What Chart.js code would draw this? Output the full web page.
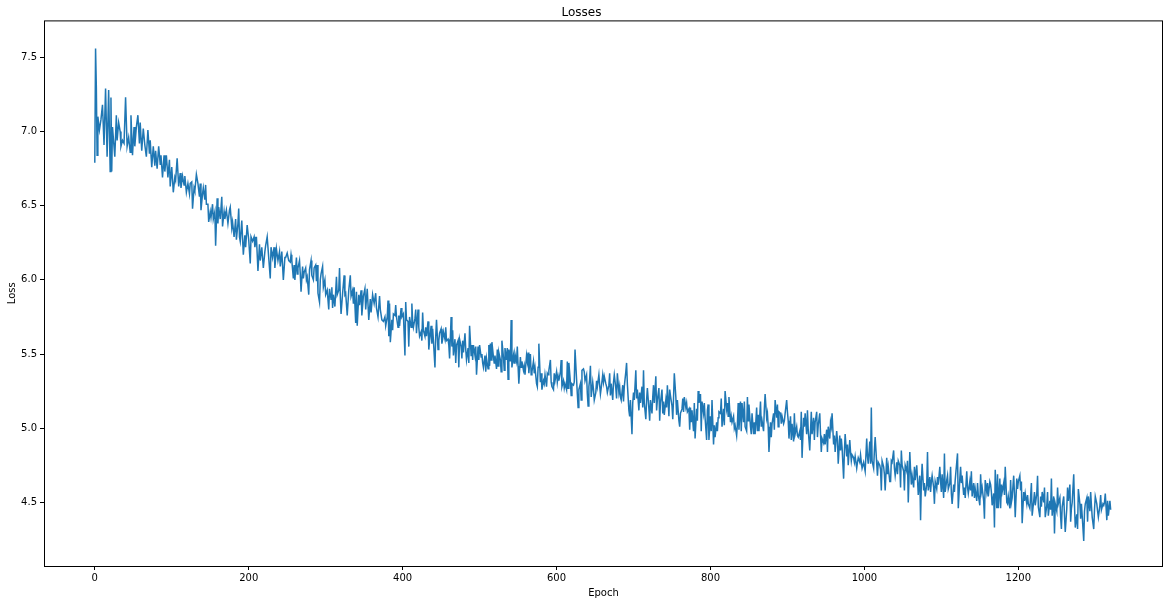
<!DOCTYPE html>
<html>
<head>
<meta charset="utf-8">
<title>Losses</title>
<script src="https://cdn.jsdelivr.net/npm/chart.js@4/dist/chart.umd.min.js"></script>
<style>
  html, body { margin: 0; padding: 0; background: #fff; }
  #wrap { width: 1167px; height: 604px; }
</style>
</head>
<body>
<div id="wrap"><canvas id="lossChart" width="1167" height="604"></canvas></div>
<script>
// loss per epoch as [epoch, loss]
const lossLog = [
  [0,6.79],[1,7.56],[2,7.30],[3,6.84],[4,7.10],[6,7.01],[8,7.08],[10,7.18],[12,6.91],[14,7.29],
  [16,6.83],[18,7.28],[20,6.73],[21,7.23],[22,6.73],[23,7.03],[26,6.83],[28,7.11],[29,6.94],[31,7.06],
  [33,7.00],[34,6.90],[36,6.94],[38,6.92],[40,7.23],[42,6.90],[44,6.96],[46,6.86],[47,7.11],[49,6.84],
  [51,7.03],[52,6.90],[54,7.03],[56,7.11],[58,6.92],[59,7.06],[61,6.87],[63,7.02],[65,6.91],[67,6.83],
  [69,7.01],[71,6.85],[72,6.94],[74,6.76],[76,6.90],[78,6.77],[79,6.87],[81,6.75],[83,6.90],[85,6.78],
  [86,6.84],[88,6.69],[90,6.84],[91,6.73],[93,6.84],[95,6.69],[97,6.81],[98,6.63],[100,6.76],[102,6.59],
  [104,6.69],[105,6.67],[107,6.82],[109,6.63],[111,6.72],[112,6.62],[114,6.70],[116,6.64],[117,6.70],[119,6.59],
  [121,6.65],[123,6.58],
  [124,6.65],[126,6.66],[127,6.48],[129,6.62],[130,6.60],[132,6.71],[134,6.65],[136,6.56],[137,6.65],[138,6.47],
  [140,6.58],[141,6.62],[143,6.54],[144,6.64],[145,6.51],[147,6.51],[148,6.39],[150,6.46],[151,6.42],[153,6.51],
  [154,6.41],[156,6.46],[157,6.23],[159,6.55],[160,6.38],[161,6.49],[163,6.41],[165,6.56],[166,6.36],[168,6.46],
  [169,6.41],[171,6.47],[173,6.38],[175,6.47],[176,6.49],[178,6.35],[179,6.39],[181,6.29],[183,6.41],[184,6.27],
  [186,6.38],[187,6.48],[188,6.29],[189,6.26],[191,6.40],[192,6.28],[193,6.17],[195,6.30],[196,6.22],[198,6.37],
  [200,6.27],[202,6.11],[203,6.29],[205,6.26],[207,6.29],[208,6.22],[210,6.29],[212,6.06],[214,6.24],[215,6.13],
  [217,6.22],[219,6.08],[221,6.19],[222,6.23],[224,6.29],[226,6.15],[228,6.01],[229,6.22],[231,6.15],[233,6.22],
  [234,6.08],[236,6.21],[238,6.13],[240,6.19],[241,6.09],[243,6.19],[245,6.00],[247,6.15],[248,6.15],[250,6.18],
  [252,6.13],
  [254,6.12],[255,6.17],[256,6.13],[258,6.01],[259,6.10],[260,6.00],[262,6.15],[263,6.04],[264,6.08],[266,6.13],
  [267,6.04],[268,5.92],[270,6.09],[271,6.01],[272,6.05],[274,6.08],[275,6.00],[276,6.02],[278,5.90],[279,6.07],
  [281,6.13],[282,6.03],[284,6.00],[285,6.08],[287,6.10],[288,5.99],[289,6.10],[290,5.91],[292,5.85],[293,6.00],
  [294,6.04],[296,6.09],[297,5.95],[299,6.00],[300,5.90],[302,5.93],[304,5.80],[305,5.94],[307,5.87],[308,5.95],
  [309,5.81],[310,5.90],[312,5.82],[314,6.02],[315,5.90],[317,5.93],[318,6.08],[319,5.89],[320,5.77],[322,5.91],
  [324,6.03],[325,5.90],[326,5.91],[328,5.76],[330,5.93],[332,6.03],[333,5.89],[335,5.93],[336,5.84],[337,5.95],
  [339,5.71],[340,5.92],[341,5.69],[343,5.90],[344,5.83],[346,5.93],[347,5.76],[349,5.89],[351,5.94],[352,5.80],
  [354,5.94],[356,5.73],[358,5.87],[359,5.78],[361,5.90],[363,5.84],[365,5.91],[366,5.81],[368,5.75],[370,5.89],
  [371,5.80],[373,5.73],[375,5.72],[377,5.75],[378,5.69],[380,5.75],[381,5.86],[382,5.62],[383,5.84],
  [384,5.58],[386,5.73],[387,5.66],[388,5.77],[390,5.76],[391,5.83],[392,5.75],[394,5.68],[395,5.76],[396,5.69],
  [398,5.81],[399,5.75],[400,5.76],[401,5.77],[403,5.49],[404,5.85],[405,5.73],[407,5.72],[408,5.55],[409,5.75],
  [411,5.68],[412,5.84],[413,5.72],[414,5.68],[416,5.74],[417,5.80],[418,5.64],[420,5.80],[421,5.68],[422,5.62],
  [424,5.65],[425,5.59],[426,5.78],[427,5.66],[429,5.62],[430,5.68],[431,5.62],[433,5.72],[434,5.53],[435,5.59],
  [437,5.69],[438,5.57],[439,5.67],[440,5.59],[442,5.41],[443,5.62],[444,5.73],[446,5.53],[447,5.59],[448,5.64],
  [450,5.67],[451,5.57],[452,5.60],[453,5.65],[455,5.60],[456,5.68],[457,5.59],[459,5.60],[460,5.56],[461,5.47],
  [463,5.75],[464,5.55],[465,5.66],[466,5.49],[468,5.60],[469,5.44],[470,5.56],[472,5.59],[473,5.41],[474,5.60],
  [476,5.55],[477,5.47],[478,5.59],[479,5.51],[481,5.64],[482,5.53],[483,5.46],[485,5.54],[486,5.44],[487,5.69],
  [489,5.49],[490,5.56],[491,5.46],[492,5.56],[494,5.49],[495,5.55],[496,5.36],[498,5.55],[499,5.46],[500,5.56],
  [502,5.48],[503,5.50],[504,5.44],[505,5.41],[507,5.49],[508,5.38],[509,5.47],[511,5.40],[512,5.56],[513,5.42],
  [514,5.57],[515,5.46],[516,5.58],[518,5.48],[519,5.44],[520,5.49],[522,5.40],[523,5.53],[524,5.42],[525,5.51],
  [527,5.46],[528,5.38],[529,5.59],[531,5.48],[532,5.39],[533,5.54],[535,5.46],[536,5.54],[537,5.33],[538,5.53],
  [540,5.45],[541,5.73],[542,5.41],[544,5.49],[545,5.44],[546,5.50],[548,5.45],[549,5.55],[550,5.42],[551,5.30],
  [553,5.48],[554,5.41],[555,5.45],[557,5.39],[558,5.42],[559,5.36],[561,5.49],[562,5.45],[563,5.51],[564,5.37],
  [566,5.50],[567,5.36],[568,5.38],[570,5.45],[571,5.37],[572,5.41],[574,5.30],[575,5.28],[576,5.41],[577,5.57],
  [579,5.31],[580,5.37],[581,5.26],[583,5.32],[584,5.30],[585,5.36],[587,5.28],[588,5.37],[589,5.36],[590,5.39],
  [592,5.46],[593,5.31],[594,5.28],[596,5.26],[597,5.37],[598,5.32],[600,5.38],[601,5.31],[602,5.35],[603,5.32],
  [605,5.38],[606,5.46],[607,5.28],[609,5.32],[610,5.27],[611,5.30],[613,5.26],[614,5.45],[615,5.27],[616,5.44],
  [618,5.31],[619,5.22],[620,5.30],[622,5.29],[623,5.31],[624,5.53],[626,5.33],[627,5.23],[628,5.14],[629,5.26],
  [631,5.30],[632,5.19],[633,5.39],[635,5.40],[636,5.38],[637,5.32],[639,5.36],[640,5.23],[641,5.15],[642,5.28],
  [643,5.33],[644,5.42],[645,5.21],[647,5.31],[648,5.26],[649,5.19],[651,5.24],[652,5.32],[653,5.28],[655,5.36],
  [656,5.29],[657,5.23],[658,5.27],[660,5.36],[661,5.31],[662,5.35],[664,5.30],[665,5.28],[666,5.24],[668,5.29],
  [669,5.37],[670,5.22],[671,5.30],[673,5.19],[674,5.31],[675,5.36],[677,5.27],[678,5.20],[679,5.37],[681,5.24],
  [682,5.28],[683,5.21],[684,5.19],[686,5.29],[687,5.18],[688,5.28],[690,5.38],[691,5.44],[692,5.30],[694,5.12],
  [695,5.08],[696,5.19],[698,4.96],[699,5.17],[700,5.24],[701,5.19],[703,5.39],[704,5.20],[705,5.26],[707,5.12],
  [708,5.24],[709,5.17],[711,5.28],[712,5.14],[713,5.39],[714,5.17],[716,5.06],[717,5.19],[718,5.27],[720,5.13],
  [721,5.05],[722,5.19],[724,5.10],[725,5.21],[726,5.29],[727,5.17],[729,5.35],[730,5.12],[731,5.19],[733,5.27],
  [734,5.05],[735,5.17],[737,5.26],[738,5.10],[739,5.18],[740,5.09],[742,5.19],[743,5.14],[744,5.29],[746,5.08],
  [747,5.26],[748,5.22],[750,5.15],[751,5.06],[752,5.20],[753,5.37],[755,5.21],[756,5.09],[757,5.19],[759,5.05],
  [760,5.01],[761,5.10],[763,5.13],[764,5.20],[765,5.11],[766,5.21],[768,5.14],[769,5.17],[770,5.11],[772,5.13],
  [773,4.99],
  [774,5.14],[775,5.04],[776,5.12],[778,4.98],[779,5.17],[780,4.93],[782,5.13],[783,5.05],[784,5.25],[785,5.17],
  [787,5.23],[788,4.98],[789,5.18],[791,5.10],[792,5.17],[793,5.07],[795,4.92],[796,5.12],[797,5.16],[798,4.92],
  [800,5.08],[801,4.98],[802,5.19],[804,4.89],[805,5.02],[806,4.94],[808,5.04],[809,4.98],[810,5.07],[811,5.11],
  [813,5.10],[814,5.20],[815,5.01],[817,5.13],[818,5.02],[819,5.25],[821,5.13],[822,5.17],[823,5.08],[824,5.21],
  [826,5.04],[827,5.08],[828,5.04],[830,5.08],[831,5.00],[832,5.02],[834,4.95],[835,5.03],[836,5.17],[837,4.99],
  [839,5.18],[840,4.98],[841,5.17],[843,5.04],[844,5.18],[845,5.01],[847,4.98],[848,5.21],[849,5.05],[850,5.16],
  [852,5.01],[853,4.96],[854,5.10],[856,4.96],[857,5.04],[858,4.96],[860,5.14],[861,4.98],[862,5.09],[863,4.98],
  [865,5.18],[866,5.01],[867,5.05],[869,4.98],[870,5.13],[871,5.23],[873,5.07],[874,5.10],[875,5.01],[876,4.84],
  [878,5.04],[879,4.94],[880,5.03],[882,5.10],[883,4.99],[884,5.19],[886,5.07],[887,5.16],[888,5.01],[889,5.11],
  [891,5.10],[892,5.03],[893,5.08],[895,5.03],[896,5.05],[897,5.10],[899,5.19],[900,5.11],[901,5.05],[902,4.93],
  [904,5.08],[905,4.92],[906,5.03],[908,4.91],[909,5.10],[910,4.96],[912,5.01],[913,4.95],[914,4.94],[916,4.98],
  [917,4.92],[918,5.11],[919,4.80],[921,5.07],[922,5.01],[923,5.10],[925,4.96],[926,5.12],[927,4.99],[929,4.85],
  [930,4.98],[931,5.11],[932,4.96],[934,5.07],[935,4.92],[936,5.04],[938,5.11],[939,4.94],[940,5.02],[942,5.10],
  [943,4.96],[944,4.84],[945,4.93],[947,4.90],[948,4.96],[949,4.89],[951,4.99],[952,4.84],[953,5.01],[955,4.93],
  [956,5.04],[957,5.01],[958,5.10],[960,4.89],[961,4.95],[962,4.84],[964,4.98],[965,4.92],[966,4.76],[968,4.95],
  [969,4.85],[970,4.93],[971,4.87],[973,4.66],[974,4.84],[975,4.96],[977,4.81],[978,4.89],[979,4.75],[981,4.92],
  [982,4.84],[983,4.78],[984,4.82],[986,4.80],[987,4.77],[988,4.81],[990,4.73],[991,4.77],[992,4.80],[994,4.77],
  [995,4.82],[996,4.77],[997,4.73],[999,4.77],[1000,4.74],[1001,4.71],[1003,4.93],[1004,4.81],[1005,4.76],[1007,4.91],
  [1008,4.76],[1009,5.14],[1010,4.78],[1012,4.73],[1013,4.85],[1014,4.94],[1016,4.76],[1017,4.68],[1018,4.77],[1020,4.75],
  [1021,4.72],[1022,4.58],[1023,4.78],[1025,4.74],[1026,4.69],[1027,4.58],[1029,4.80],[1030,4.69],[1031,4.74],[1033,4.64],
  [1034,4.64],[1035,4.78],[1036,4.77],[1038,4.85],[1039,4.73],[1040,4.68],[1042,4.77],[1043,4.69],[1044,4.78],[1046,4.75],
  [1047,4.60],[1048,4.85],[1049,4.75],[1051,4.71],[1052,4.58],[1053,4.75],[1055,4.71],[1056,4.78],[1057,4.50],[1059,4.84],
  [1060,4.72],[1061,4.62],[1062,4.68],[1064,4.60],[1065,4.74],[1066,4.65],[1068,4.75],[1069,4.66],[1070,4.55],[1072,4.68],
  [1073,4.38],[1074,4.63],[1075,4.76],[1077,4.58],[1078,4.63],[1079,4.54],[1081,4.62],[1082,4.84],[1083,4.58],[1085,4.67],
  [1086,4.57],[1087,4.64],[1088,4.68],[1090,4.60],[1091,4.49],[1092,4.64],[1094,4.59],[1095,4.67],[1096,4.62],[1098,4.74],
  [1099,4.64],[1100,4.57],[1101,4.69],[1103,4.53],[1104,4.83],[1105,4.57],[1107,4.65],[1108,4.68],[1109,4.59],[1111,4.63],
  [1112,4.74],[1113,4.56],[1114,4.49],[1116,4.62],[1117,4.57],[1118,4.65],[1120,4.77],[1121,4.83],[1122,4.46],[1124,4.66],
  [1125,4.74],[1126,4.63],[1127,4.68],[1129,4.55],[1130,4.60],[1131,4.53],[1133,4.71],[1134,4.60],[1135,4.56],[1137,4.64],
  [1138,4.58],[1139,4.71],[1140,4.54],[1142,4.63],[1143,4.53],[1144,4.59],[1146,4.51],[1147,4.63],[1148,4.55],[1150,4.48],
  [1151,4.69],[1152,4.57],[1153,4.60],[1155,4.51],[1156,4.39],[1157,4.65],[1159,4.57],[1160,4.63],[1161,4.54],[1163,4.64],
  [1164,4.62],[1165,4.57],[1166,4.48],[1168,4.56],[1169,4.33],[1170,4.72],[1172,4.46],[1173,4.69],[1174,4.46],[1176,4.66],
  [1177,4.46],[1178,4.62],[1179,4.57],[1181,4.63],[1182,4.55],[1183,4.74],[1185,4.50],[1186,4.49],[1187,4.54],[1189,4.46],
  [1190,4.65],[1191,4.50],[1192,4.53],[1194,4.68],[1195,4.56],[1196,4.40],[1198,4.66],[1199,4.59],[1200,4.64],[1202,4.68],
  [1203,4.58],[1204,4.64],[1205,4.36],[1207,4.57],[1208,4.51],[1209,4.56],[1211,4.49],[1212,4.55],[1213,4.49],[1215,4.46],
  [1216,4.54],[1217,4.63],[1218,4.41],[1220,4.51],[1221,4.57],[1222,4.48],[1224,4.56],[1225,4.68],[1226,4.47],[1228,4.40],
  [1229,4.54],[1230,4.47],[1231,4.57],[1233,4.50],[1234,4.60],[1235,4.40],[1237,4.48],[1238,4.57],[1239,4.41],[1241,4.51],
  [1242,4.45],[1243,4.66],[1244,4.41],[1246,4.54],[1247,4.29],[1248,4.49],[1250,4.44],[1251,4.60],[1252,4.49],[1254,4.53],
  [1255,4.40],[1256,4.32],[1257,4.47],[1259,4.54],[1260,4.41],[1261,4.30],[1263,4.46],[1264,4.60],[1265,4.51],[1267,4.62],
  [1268,4.37],[1269,4.46],[1270,4.50],[1272,4.69],[1273,4.48],[1274,4.33],[1276,4.42],[1277,4.32],[1278,4.59],[1280,4.49],
  [1281,4.39],[1282,4.49],[1283,4.41],[1285,4.24],[1286,4.44],[1287,4.49],[1289,4.53],[1290,4.37],[1291,4.54],[1293,4.44],
  [1294,4.57],[1295,4.48],[1296,4.40],[1298,4.32],[1299,4.45],[1300,4.54],[1302,4.49],[1303,4.44],[1304,4.40],[1306,4.48],
  [1307,4.55],[1308,4.45],[1310,4.49],[1311,4.48],[1312,4.50],[1313,4.56],[1315,4.38],[1316,4.51],[1317,4.41],[1319,4.51],
  [1320,4.45]
];

const xTicks = [0, 200, 400, 600, 800, 1000, 1200];
const yTicks = [4.5, 5.0, 5.5, 6.0, 6.5, 7.0, 7.5];

const FONT = 'DejaVu Sans';
const LINE_BLUE = '#1f77b4';

// matplotlib-like frame round the plot area
const framePlugin = {
  id: 'frame',
  afterDatasetsDraw(chart) {
    const { ctx, chartArea: a } = chart;
    ctx.save();
    ctx.strokeStyle = '#000';
    ctx.lineWidth = 1;
    ctx.strokeRect(a.left + 0.5, a.top + 0.5, a.right - a.left - 1, a.bottom - a.top);
    ctx.restore();
  }
};

function initChart() {
  const ctx = document.getElementById('lossChart').getContext('2d');
  new Chart(ctx, {
    type: 'line',
    data: {
      datasets: [{
        label: 'loss',
        data: lossLog.map(p => ({ x: p[0], y: p[1] })),
        borderColor: LINE_BLUE,
        borderWidth: 1.5,
        pointRadius: 0,
        fill: false,
        tension: 0
      }]
    },
    options: {
      responsive: false,
      animation: false,
      layout: { padding: { left: 0, right: 4, top: 0, bottom: 0 } },
      plugins: {
        legend: { display: false },
        tooltip: { enabled: false },
        title: {
          display: true,
          text: 'Losses',
          color: '#000',
          font: { family: FONT, size: 12, weight: 'normal' },
          padding: { top: 5.5, bottom: 0.5 }
        }
      },
      scales: {
        x: {
          type: 'linear',
          min: -66,
          max: 1388,
          afterBuildTicks: s => { s.ticks = xTicks.map(v => ({ value: v })); },
          afterFit: s => { s.height = 38; },
          border: { display: false },
          grid: { drawOnChartArea: false, drawTicks: true, tickLength: 4, color: '#000', tickWidth: 1 },
          ticks: { color: '#000', padding: 2, maxRotation: 0, font: { family: FONT, size: 10 }, callback: v => String(v) },
          title: { display: true, text: 'Epoch', color: '#000', font: { family: FONT, size: 10 }, padding: { top: 0, bottom: 5 } }
        },
        y: {
          type: 'linear',
          min: 4.071,
          max: 7.749,
          afterBuildTicks: s => { s.ticks = yTicks.map(v => ({ value: v })); },
          afterFit: s => { s.width = 44; },
          border: { display: false },
          grid: { drawOnChartArea: false, drawTicks: true, tickLength: 4, color: '#000', tickWidth: 1 },
          ticks: { color: '#000', padding: 3, font: { family: FONT, size: 10 }, callback: v => v.toFixed(1) },
          title: { display: true, text: 'Loss', color: '#000', font: { family: FONT, size: 10 }, padding: { top: 6, bottom: 0 } }
        }
      }
    },
    plugins: [framePlugin]
  });
}

initChart();
</script>
</body>
</html>
